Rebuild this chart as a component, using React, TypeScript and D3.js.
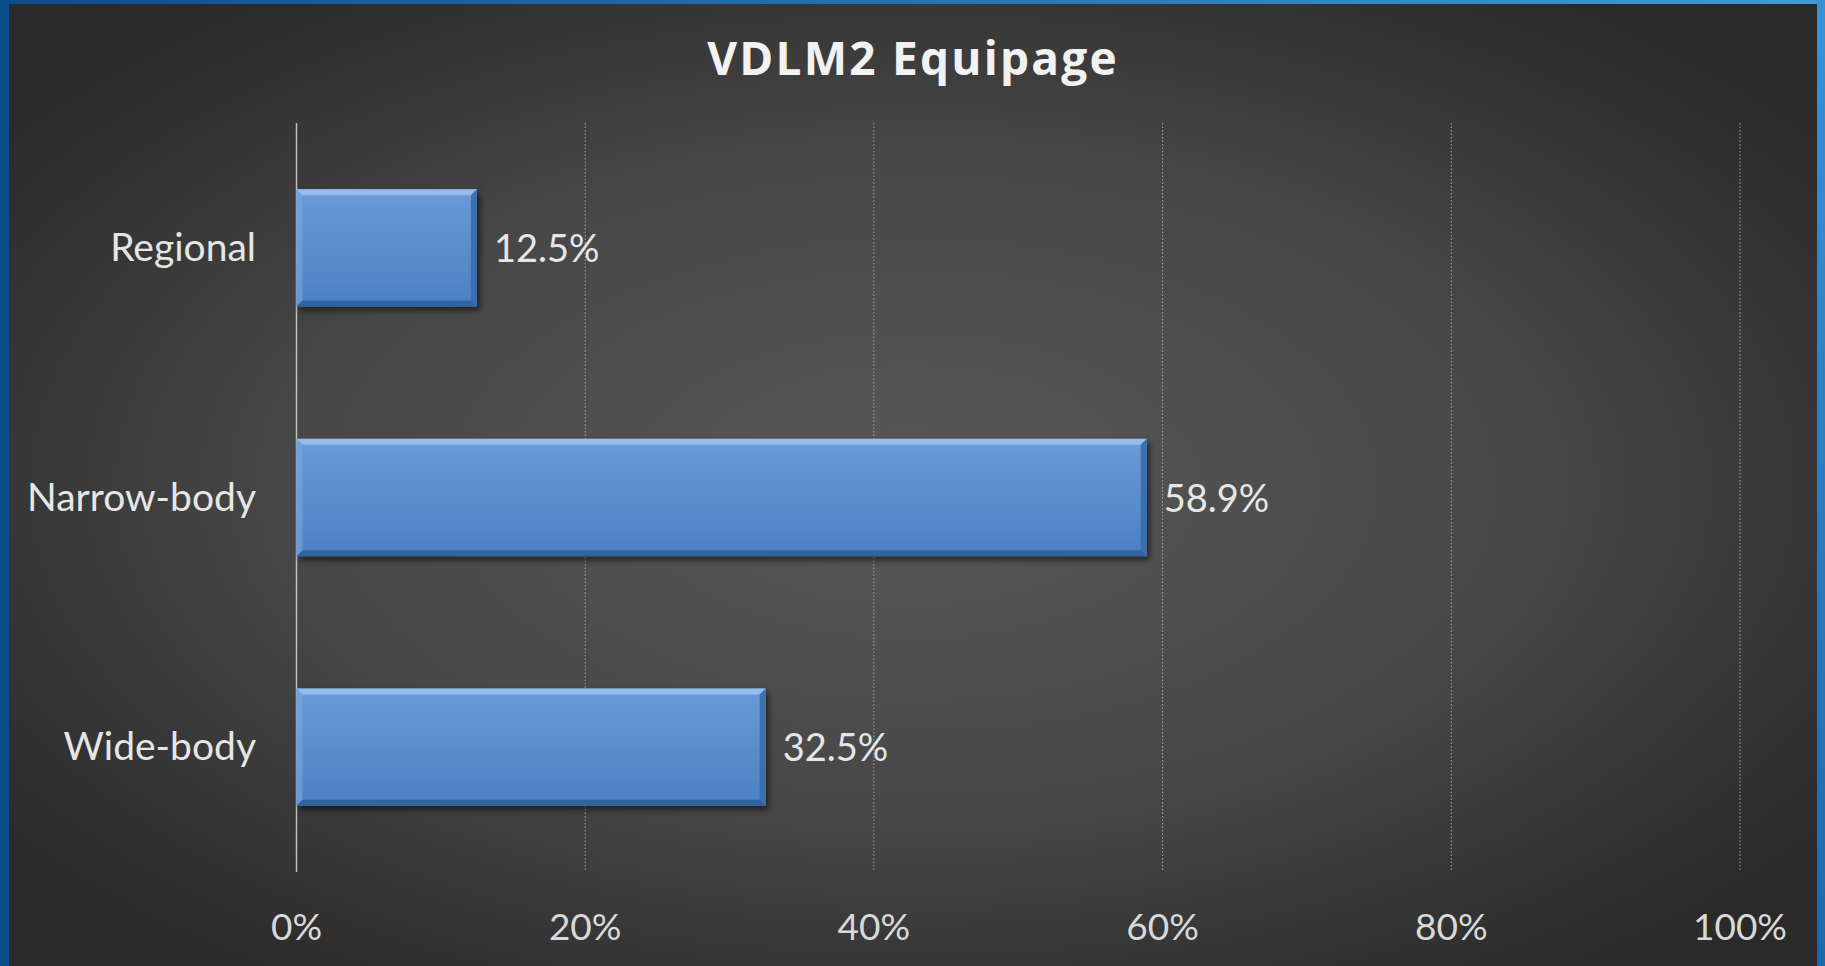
import React from "react";
import * as d3 from "d3";

const categories = ["Regional", "Narrow-body", "Wide-body"];
const values = [0.125, 0.589, 0.325];
const valueLabels = ["12.5%", "58.9%", "32.5%"];
const tickValues = [0, 0.2, 0.4, 0.6, 0.8, 1.0];
const title = "VDLM2 Equipage";

const W = 1825;
const H = 966;

export default function App() {
  const x = d3.scaleLinear().domain([0, 1]).range([296.5, 1740]);
  const y = d3.scaleBand<string>().domain(categories).range([123, 872]).paddingInner(0.53).paddingOuter(0.265);
  const bh = y.bandwidth();
  const fmt = d3.format(".0%");
  const font = "Lato, 'Open Sans', sans-serif";
  const bev = 6;

  return (
    <svg width={W} height={H} style={{ position: "absolute", left: 0, top: 0, display: "block" }}>
      <defs>
        <radialGradient id="bg" cx="0.5" cy="0.5" r="0.62" fx="0.5" fy="0.5">
          <stop offset="0%" stopColor="#585858" />
          <stop offset="55%" stopColor="#474747" />
          <stop offset="100%" stopColor="#2a2a2a" />
        </radialGradient>
        <linearGradient id="topBorder" x1="0" x2="1" y1="0" y2="0">
          <stop offset="0%" stopColor="#0b4e8c" />
          <stop offset="100%" stopColor="#3f9ad8" />
        </linearGradient>
        <linearGradient id="rightBorder" x1="0" x2="0" y1="0" y2="1">
          <stop offset="0%" stopColor="#3a92d2" />
          <stop offset="100%" stopColor="#1c6aac" />
        </linearGradient>
        <linearGradient id="barFill" x1="0" x2="0" y1="0" y2="1">
          <stop offset="0%" stopColor="#6a9bd7" />
          <stop offset="100%" stopColor="#4a80c4" />
        </linearGradient>
        <filter id="shadow" x="-5%" y="-20%" width="115%" height="150%">
          <feDropShadow dx="3" dy="4" stdDeviation="3" floodColor="#000" floodOpacity="0.55" />
        </filter>
      </defs>

      <rect x={0} y={0} width={W} height={H} fill="#0b4e8c" />
      <rect x={0} y={0} width={W} height={4} fill="url(#topBorder)" />
      <rect x={1817} y={0} width={W - 1817} height={H} fill="url(#rightBorder)" />
      <rect x={9} y={4} width={1808} height={H - 4} fill="url(#bg)" />

      <text x={913} y={75} textAnchor="middle" fill="#f2f2f2" fontFamily="'Open Sans', sans-serif" fontWeight={700} fontSize={46} letterSpacing={2.2}>
        {title}
      </text>

      {tickValues.map((t) =>
        t === 0 ? null : (
          <line key={"g" + t} x1={x(t)} x2={x(t)} y1={123} y2={872} stroke="#a6a6a6" strokeWidth={1} strokeDasharray="1.5,2" />
        )
      )}
      <line x1={x(0)} x2={x(0)} y1={123} y2={872} stroke="#bfbfbf" strokeWidth={1.5} />

      {tickValues.map((t) => (
        <text key={"t" + t} x={x(t)} y={940} textAnchor="middle" fill="#d9d9d9" fontFamily={font} fontSize={37}>
          {fmt(t)}
        </text>
      ))}

      {categories.map((c, i) => {
        const y0 = y(c)!;
        const x0 = x(0);
        const x1 = x(values[i]);
        const y1 = y0 + bh;
        return (
          <g key={c}>
            <rect x={x0} y={y0} width={x1 - x0} height={bh} fill="url(#barFill)" filter="url(#shadow)" />
            <polygon points={`${x0},${y0} ${x1},${y0} ${x1 - bev},${y0 + bev} ${x0 + bev},${y0 + bev}`} fill="#9cc3ef" opacity={0.85} />
            <polygon points={`${x0},${y0} ${x0 + bev},${y0 + bev} ${x0 + bev},${y1 - bev} ${x0},${y1}`} fill="#7aa8e0" opacity={0.6} />
            <polygon points={`${x1},${y0} ${x1},${y1} ${x1 - bev},${y1 - bev} ${x1 - bev},${y0 + bev}`} fill="#3b6ca8" opacity={0.9} />
            <polygon points={`${x0},${y1} ${x0 + bev},${y1 - bev} ${x1 - bev},${y1 - bev} ${x1},${y1}`} fill="#2f5f99" opacity={0.9} />
            <text x={x1 + 17} y={(y0 + y1) / 2 + 14} fill="#e6e6e6" fontFamily={font} fontSize={38}>
              {valueLabels[i]}
            </text>
            <text x={256} y={(y0 + y1) / 2 + 13} textAnchor="end" fill="#e6e6e6" fontFamily={font} fontSize={39}>
              {c}
            </text>
          </g>
        );
      })}
    </svg>
  );
}
